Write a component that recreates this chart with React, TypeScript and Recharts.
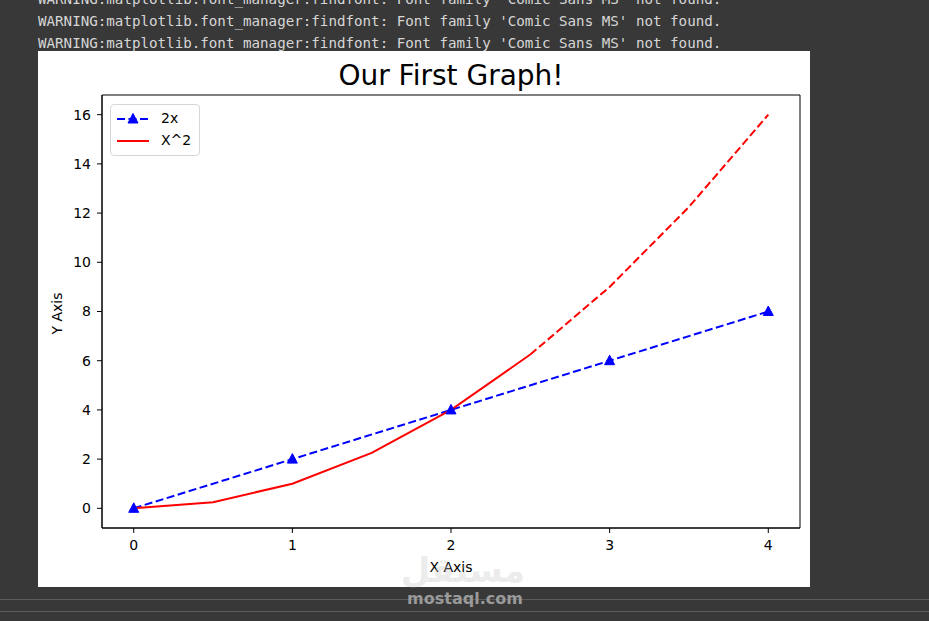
import React from 'react';
import { LineChart, Line, XAxis, YAxis, ReferenceArea, Legend } from 'recharts';

const xTicks = [0, 1, 2, 3, 4];
const yTicks = [0, 2, 4, 6, 8, 10, 12, 14, 16];

const linearX = [0, 1, 2, 3, 4];
const linearY = [0, 2, 4, 6, 8];

const squareSolidX = [0, 0.5, 1, 1.5, 2, 2.5];
const squareSolidY = [0, 0.25, 1, 2.25, 4, 6.25];
const squareDashedX = [2.5, 3, 3.5, 4];
const squareDashedY = [6.25, 9, 12.25, 16];

const warnings = [
  "WARNING:matplotlib.font_manager:findfont: Font family 'Comic Sans MS' not found.",
  "WARNING:matplotlib.font_manager:findfont: Font family 'Comic Sans MS' not found.",
  "WARNING:matplotlib.font_manager:findfont: Font family 'Comic Sans MS' not found.",
];

const toPoints = (xs: number[], ys: number[]) => xs.map((x, i) => ({ x, y: ys[i] }));

const linearData = toPoints(linearX, linearY);
const squareSolid = toPoints(squareSolidX, squareSolidY);
const squareDashed = toPoints(squareDashedX, squareDashedY);

const BLUE = '#0000ff';
const RED = '#ff0000';
const DASH = '8 3.5';
const FONT = '"DejaVu Sans", sans-serif';

function Triangle(props: any) {
  const { cx, cy } = props;
  if (cx == null || cy == null) return null;
  return (
    <polygon
      points={`${cx},${cy - 5.5} ${cx - 5},${cy + 4} ${cx + 5},${cy + 4}`}
      fill={BLUE}
      stroke={BLUE}
      strokeWidth={1}
    />
  );
}

function LegendBox() {
  return (
    <div
      style={{
        position: 'relative',
        width: 90,
        height: 52,
        boxSizing: 'border-box',
        border: '1px solid #d6d6d6',
        borderRadius: 4,
        background: 'rgba(255,255,255,0.8)',
        fontFamily: FONT,
        fontSize: 14,
        color: '#000',
      }}
    >
      <svg width={40} height={52} style={{ position: 'absolute', left: 0, top: 0 }}>
        <line x1={6} y1={14} x2={38} y2={14} stroke={BLUE} strokeWidth={2} strokeDasharray={DASH} />
        <Triangle cx={22} cy={14} />
        <line x1={6} y1={36} x2={38} y2={36} stroke={RED} strokeWidth={2} />
      </svg>
      <div style={{ position: 'absolute', left: 50, top: 5, lineHeight: '17px' }}>2x</div>
      <div style={{ position: 'absolute', left: 50, top: 27, lineHeight: '17px' }}>X^2</div>
    </div>
  );
}

export default function App() {
  return (
    <div
      style={{
        position: 'fixed',
        left: 0,
        top: 0,
        width: 929,
        height: 621,
        background: '#383838',
        overflow: 'hidden',
      }}
    >
      {warnings.map((w, i) => (
        <div
          key={i}
          style={{
            position: 'absolute',
            left: 38,
            top: -12 + i * 22,
            height: 22,
            lineHeight: '22px',
            fontFamily: '"DejaVu Sans Mono", monospace',
            fontSize: 14.2,
            color: '#d6d6d6',
            whiteSpace: 'pre',
          }}
        >
          {w}
        </div>
      ))}

      <div style={{ position: 'absolute', left: 0, top: 599, width: 929, height: 1, background: '#5c5c5c' }} />
      <div style={{ position: 'absolute', left: 0, top: 611, width: 929, height: 1, background: '#5c5c5c' }} />

      <div style={{ position: 'absolute', left: 38, top: 51, width: 772, height: 536, background: '#fff' }}>
        <LineChart width={772} height={536} margin={{ top: 44, right: 10, left: 14, bottom: 29 }}>
          <XAxis
            dataKey="x"
            type="number"
            domain={[-0.2, 4.2]}
            ticks={xTicks}
            allowDataOverflow
            height={30}
            tickSize={5}
            tickMargin={7}
            axisLine={{ stroke: '#000' }}
            tickLine={{ stroke: '#000' }}
            tick={{ fill: '#000', fontSize: 14, fontFamily: FONT }}
          />
          <YAxis
            type="number"
            domain={[-0.8, 16.8]}
            ticks={yTicks}
            allowDataOverflow
            width={50}
            tickSize={5}
            tickMargin={6}
            axisLine={{ stroke: '#000' }}
            tickLine={{ stroke: '#000' }}
            tick={{ fill: '#000', fontSize: 14, fontFamily: FONT }}
          />
          <ReferenceArea
            x1={-0.2}
            x2={4.2}
            y1={-0.8}
            y2={16.8}
            fill="none"
            stroke="#000"
            strokeWidth={1}
            ifOverflow="visible"
          />
          <Line
            data={linearData}
            dataKey="y"
            name="2x"
            type="linear"
            stroke={BLUE}
            strokeWidth={2}
            strokeDasharray={DASH}
            dot={<Triangle />}
            activeDot={false}
            isAnimationActive={false}
          />
          <Line
            data={squareSolid}
            dataKey="y"
            name="X^2"
            type="linear"
            stroke={RED}
            strokeWidth={2}
            dot={false}
            activeDot={false}
            isAnimationActive={false}
          />
          <Line
            data={squareDashed}
            dataKey="y"
            name="X^2 dashed"
            type="linear"
            stroke={RED}
            strokeWidth={2}
            strokeDasharray={DASH}
            dot={false}
            activeDot={false}
            isAnimationActive={false}
          />
          <Legend
            layout="vertical"
            align="center"
            verticalAlign="middle"
            content={() => <LegendBox />}
            wrapperStyle={{ left: 72, top: 53, width: 90, height: 52 }}
          />
        </LineChart>

        <div
          style={{
            position: 'absolute',
            left: 64,
            width: 698,
            top: 7,
            textAlign: 'center',
            fontFamily: FONT,
            fontSize: 28,
            lineHeight: '36px',
            color: '#000',
          }}
        >
          Our First Graph!
        </div>
        <div
          style={{
            position: 'absolute',
            left: 64,
            width: 698,
            top: 508,
            textAlign: 'center',
            fontFamily: FONT,
            fontSize: 14,
            lineHeight: '17px',
            color: '#000',
          }}
        >
          X Axis
        </div>
        <div
          style={{
            position: 'absolute',
            left: 19 - 50,
            top: 262 - 8,
            width: 100,
            textAlign: 'center',
            transform: 'rotate(-90deg)',
            fontFamily: FONT,
            fontSize: 14,
            lineHeight: '17px',
            color: '#000',
          }}
        >
          Y Axis
        </div>
      </div>

      <div
        style={{
          position: 'absolute',
          left: 405,
          top: 550,
          width: 120,
          textAlign: 'center',
          fontFamily: FONT,
          fontWeight: 'bold',
          fontSize: 34,
          lineHeight: '40px',
          color: 'rgba(200,200,200,0.35)',
          direction: 'rtl',
        }}
      >
        مستقل
      </div>
      <div
        style={{
          position: 'absolute',
          left: 400,
          top: 589,
          width: 130,
          textAlign: 'center',
          fontFamily: FONT,
          fontWeight: 'bold',
          fontSize: 16,
          lineHeight: '20px',
          color: '#9a9a9a',
        }}
      >
        mostaql.com
      </div>
    </div>
  );
}
